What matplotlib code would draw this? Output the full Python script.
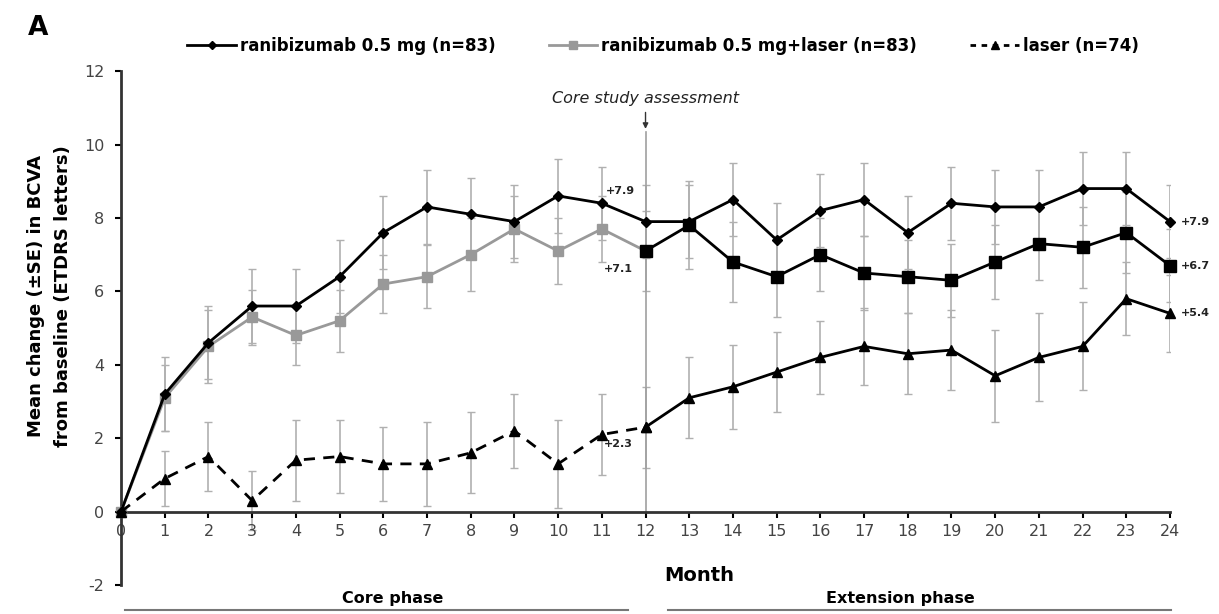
import matplotlib
matplotlib.use("Agg")
import matplotlib.pyplot as plt
from matplotlib.lines import Line2D

plt.rcParams['font.family'] = ['DejaVu Sans']
plt.rcParams['axes.unicode_minus'] = False

months = list(range(25))

rani = [0, 3.2, 4.6, 5.6, 5.6, 6.4, 7.6, 8.3, 8.1, 7.9, 8.6, 8.4, 7.9,
        7.9, 8.5, 7.4, 8.2, 8.5, 7.6, 8.4, 8.3, 8.3, 8.8, 8.8, 7.9]
rani_se = [0, 1.0, 1.0, 1.0, 1.0, 1.0, 1.0, 1.0, 1.0, 1.0, 1.0, 1.0, 1.0,
           1.0, 1.0, 1.0, 1.0, 1.0, 1.0, 1.0, 1.0, 1.0, 1.0, 1.0, 1.0]

combo = [0, 3.1, 4.5, 5.3, 4.8, 5.2, 6.2, 6.4, 7.0, 7.7, 7.1, 7.7, 7.1,
         7.8, 6.8, 6.4, 7.0, 6.5, 6.4, 6.3, 6.8, 7.3, 7.2, 7.6, 6.7]
combo_se = [0, 0.9, 1.0, 0.75, 0.8, 0.85, 0.8, 0.85, 1.0, 0.9, 0.9, 0.9, 1.1,
            1.2, 1.1, 1.1, 1.0, 1.0, 1.0, 1.0, 1.0, 1.0, 1.1, 1.1, 1.0]

laser = [0, 0.9, 1.5, 0.3, 1.4, 1.5, 1.3, 1.3, 1.6, 2.2, 1.3, 2.1, 2.3,
         3.1, 3.4, 3.8, 4.2, 4.5, 4.3, 4.4, 3.7, 4.2, 4.5, 5.8, 5.4]
laser_se = [0, 0.75, 0.95, 0.8, 1.1, 1.0, 1.0, 1.15, 1.1, 1.0, 1.2, 1.1, 1.1,
            1.1, 1.15, 1.1, 1.0, 1.05, 1.1, 1.1, 1.25, 1.2, 1.2, 1.0, 1.05]

labels = ['ranibizumab 0.5 mg (n=83)', 'ranibizumab 0.5 mg+laser (n=83)', 'laser (n=74)']
core_end = 12

fig = plt.figure(figsize=(12.19, 6.14), dpi=100)
ax = fig.add_axes([0.0993, 0.0472, 0.8605, 0.837])

eb = dict(fmt='none', ecolor='#b0b0b0', elinewidth=1.2, capsize=3, capthick=1.0, zorder=1)
ax.errorbar(months[1:], rani[1:], yerr=rani_se[1:], **eb)
ax.errorbar(months[1:], combo[1:], yerr=combo_se[1:], **eb)
ax.errorbar(months[1:], laser[1:], yerr=laser_se[1:], **eb)

# core study assessment line
ax.plot([12, 12], [0, 10.35], color='#a0a0a0', lw=1.2, zorder=1)
ax.annotate('', xy=(12, 10.35), xytext=(12, 10.95),
            arrowprops=dict(arrowstyle='-|>', color='#333333', lw=1.0, mutation_scale=8))
ax.text(12, 11.05, 'Core study assessment', ha='center', va='bottom',
        fontsize=11.5, style='italic', color='#222222')

# core phase
ax.plot(months[:core_end + 1], combo[:core_end + 1], color='#999999', lw=2,
        marker='s', ms=7, markevery=list(range(core_end)), clip_on=False, zorder=3)
ax.plot(months[:core_end + 1], laser[:core_end + 1], color='black', lw=2, ls=(0, (4, 3)),
        marker='^', ms=7.5, clip_on=False, zorder=4)
# extension phase
ax.plot(months[core_end:], combo[core_end:], color='black', lw=2,
        marker='s', ms=9, clip_on=False, zorder=3)
ax.plot(months[core_end:], laser[core_end:], color='black', lw=2,
        marker='^', ms=7.5, clip_on=False, zorder=4)
ax.plot(months, rani, color='black', lw=2, marker='D', ms=5, clip_on=False, zorder=5)

# value labels
lab_kw = dict(fontsize=8, fontweight='bold', color='#222222')
ax.text(11.1, 8.6, '+%.1f' % rani[core_end], ha='left', va='bottom', **lab_kw)
ax.text(11.05, 6.6, '+%.1f' % combo[core_end], ha='left', va='center', **lab_kw)
ax.text(11.05, 1.85, '+%.1f' % laser[core_end], ha='left', va='center', **lab_kw)
ax.text(24.25, rani[-1], '+%.1f' % rani[-1], ha='left', va='center', **lab_kw)
ax.text(24.25, combo[-1], '+%.1f' % combo[-1], ha='left', va='center', **lab_kw)
ax.text(24.25, laser[-1], '+%.1f' % laser[-1], ha='left', va='center', **lab_kw)

ax.set_xlim(0, 24)
ax.set_ylim(-2, 12)
ax.set_xticks(months)
ax.set_yticks(range(-2, 13, 2))
for s in ['top', 'right']:
    ax.spines[s].set_visible(False)
ax.spines['bottom'].set_position(('data', 0))
ax.spines['bottom'].set_linewidth(2)
ax.spines['left'].set_linewidth(2)
ax.spines['bottom'].set_color('#333333')
ax.spines['left'].set_color('#333333')
ax.tick_params(axis='x', direction='out', length=4, width=1.5, labelsize=11.5,
               labelcolor='#444444', pad=5)
ax.tick_params(axis='y', direction='out', length=4, width=1.5, labelsize=11.5,
               labelcolor='#444444', pad=8)
ax.set_ylabel('Mean change (\u00b1SE) in BCVA\nfrom baseline (ETDRS letters)',
              fontsize=13, fontweight='bold', linespacing=1.6)
ax.yaxis.set_label_coords(-0.047, 0.562)

fig.text(0.574, 0.062, 'Month', ha='center', va='center', fontsize=14, fontweight='bold')
fig.text(0.031, 0.955, 'A', ha='center', va='center', fontsize=19, fontweight='bold')

# phase brackets
fig.text(0.322, 0.026, 'Core phase', ha='center', va='center', fontsize=11.5, fontweight='bold')
fig.text(0.739, 0.026, 'Extension phase', ha='center', va='center', fontsize=11.5, fontweight='bold')
fig.add_artist(Line2D([125 / 1219, 628 / 1219], [0.006, 0.006], color='#777777', lw=1.5))
fig.add_artist(Line2D([668 / 1219, 1171 / 1219], [0.006, 0.006], color='#777777', lw=1.5))

handles = [
    Line2D([], [], color='black', lw=2, marker='D', ms=4.5),
    Line2D([], [], color='#999999', lw=2, marker='s', ms=6),
    Line2D([], [], color='black', lw=2, ls=(0, (2, 2)), marker='^', ms=6),
]
fig.legend(handles, labels, loc='center', bbox_to_anchor=(0.544, 0.925), ncol=3,
           frameon=False, prop={'weight': 'bold', 'size': 12},
           handlelength=2.9, columnspacing=3.2, handletextpad=0.25)

fig.savefig('out.png', dpi=100, facecolor='white')
plt.close(fig)
